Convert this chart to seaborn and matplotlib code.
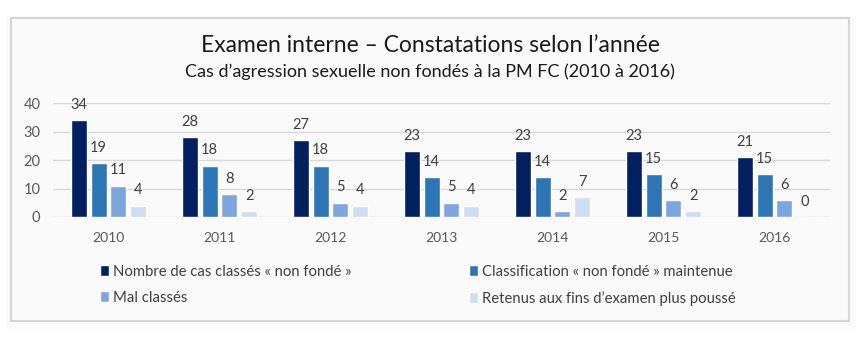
import matplotlib
matplotlib.use("Agg")
import matplotlib.pyplot as plt
import seaborn as sns
import pandas as pd
from matplotlib.patches import Rectangle

years = ["2010", "2011", "2012", "2013", "2014", "2015", "2016"]
series_names = [
    "Nombre de cas classés « non fondé »",
    "Classification « non fondé » maintenue",
    "Mal classés",
    "Retenus aux fins d’examen plus poussé",
]
nombre_non_fonde = [34, 28, 27, 23, 23, 23, 21]
maintenue = [19, 18, 18, 14, 14, 15, 15]
mal_classes = [11, 8, 5, 5, 2, 6, 6]
retenus = [4, 2, 4, 4, 7, 2, 0]
colors = ["#002060", "#2E75B6", "#7FA5DE", "#CDDDF2"]

values = [nombre_non_fonde, maintenue, mal_classes, retenus]
rows = []
for name, vals in zip(series_names, values):
    for y, v in zip(years, vals):
        rows.append({"Année": y, "Valeur": v, "Série": name})
df = pd.DataFrame(rows)

sns.set_theme(style="white")
plt.rcParams['font.family'] = ['Lato', 'DejaVu Sans']

W, H = 860, 360
fig = plt.figure(figsize=(8.6, 3.6), dpi=100)
fig.patch.set_facecolor("white")
# faint outer panel
fig.add_artist(Rectangle((7 / W, 1 - 331 / H), (856 - 7) / W, (331 - 16) / H,
                         transform=fig.transFigure, facecolor="#fbfbfb",
                         edgecolor="none", zorder=-3))
# chart frame
fig.add_artist(Rectangle((11 / W, 1 - 321 / H), (849 - 11) / W, (321 - 18) / H,
                         transform=fig.transFigure, facecolor="#fafafa",
                         edgecolor="#d6d6d6", lw=1.5, zorder=-2))

ax = fig.add_axes([53 / W, 143 / H, 777 / W, 114 / H])
ax.set_facecolor("none")
ax.set_zorder(1)
sns.barplot(data=df, x="Année", y="Valeur", hue="Série", hue_order=series_names,
            order=years, palette=colors, width=0.72, gap=0.2, ax=ax,
            saturation=1, zorder=3)

for c in ax.containers:
    ax.bar_label(c, fmt="{:.0f}", padding=6, fontsize=10.5, color="#404040")

ax.set_ylim(0, 40)
ax.set_xlim(-0.5, 6.5)
ax.set_yticks([0, 10, 20, 30, 40])
ax.yaxis.grid(True, color="#d9d9d9", lw=1)
ax.set_axisbelow(True)
for s in ax.spines.values():
    s.set_visible(False)
ax.tick_params(axis="both", length=0, labelsize=10, colors="#595959")
ax.tick_params(axis="y", labelsize=10.5, pad=9)
ax.tick_params(axis="x", pad=11)
ax.set_xlabel("")
ax.set_ylabel("")

handles, labels = ax.get_legend_handles_labels()
ax.get_legend().remove()
order = [0, 2, 1, 3]
fig.legend([handles[i] for i in order], [labels[i] for i in order],
           loc="upper left", bbox_to_anchor=(100 / W, 1 - 265 / H),
           ncol=2, frameon=False, fontsize=10.7, handlelength=0.62, handleheight=0.75,
           handletextpad=0.25, columnspacing=7.9, labelspacing=0.8, borderpad=0,
           borderaxespad=0, labelcolor="#404040")

fig.text(430 / W, 1 - 46 / H, "Examen interne – Constatations selon l’année",
         ha="center", va="center", fontsize=16.5, color="#1a1a1a")
fig.text(430 / W, 1 - 72 / H, "Cas d’agression sexuelle non fondés à la PM FC (2010 à 2016)",
         ha="center", va="center", fontsize=13, color="#1a1a1a")

fig.savefig("out.png", dpi=100, facecolor="white")
